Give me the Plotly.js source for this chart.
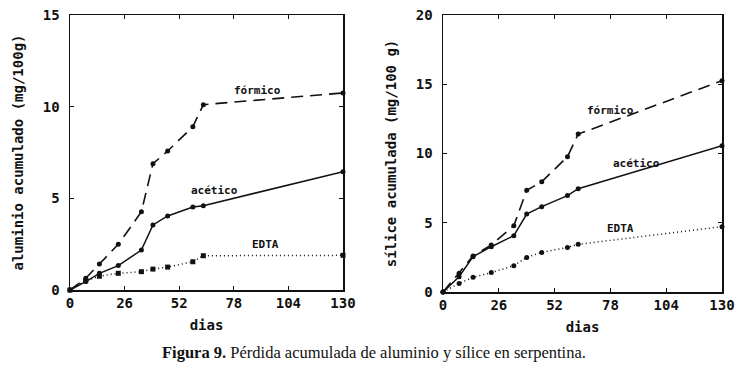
<!DOCTYPE html>
<html>
<head>
<meta charset="utf-8">
<script src="https://cdn.plot.ly/plotly-3.0.1.min.js"></script>
<style>
html,body{margin:0;padding:0;background:#fff;}
#chart{width:740px;height:376px;}
</style>
</head>
<body>
<div id="chart"></div>
<script>
// ---- data ----
const dias = [0, 7.5, 14, 23, 34, 39.5, 46.5, 58.5, 63.5, 130];
const diasSi = [0, 7.5, 14, 22.5, 33, 39, 46, 58, 63, 130];

const alFormico = [0, 0.64, 1.42, 2.49, 4.27, 6.89, 7.58, 8.91, 10.11, 10.75];
const alAcetico = [0, 0.46, 0.91, 1.33, 2.18, 3.55, 4.04, 4.53, 4.60, 6.45];
const alEDTA    = [0, 0.50, 0.75, 0.91, 1.00, 1.14, 1.25, 1.54, 1.87, 1.89];

const siFormico = [0, 1.35, 2.60, 3.39, 4.79, 7.34, 7.96, 9.77, 11.40, 15.26];
const siAcetico = [0, 1.10, 2.55, 3.27, 4.07, 5.63, 6.16, 6.96, 7.46, 10.56];
const siEDTA    = [0, 0.62, 1.06, 1.40, 1.90, 2.50, 2.86, 3.22, 3.44, 4.72];

const xTicks = [0, 26, 52, 78, 104, 130];
const seriesNames = ['fórmico', 'acético', 'EDTA'];
const yTitleAl = 'aluminio acumulado (mg/100g)';
const yTitleSi = 'sílice acumulada (mg/100 g)';
const xTitle = 'dias';
const caption = '<b>Figura 9.</b> Pérdida acumulada de aluminio y sílice en serpentina.';

// ---- styling ----
const mono = '"DejaVu Sans Mono", monospace';
const dashes = ['12px,7px', 'solid', '1px,3px'];
const lw = [1.6, 1.5, 1.5];

function mk(x, y, i, xa, ya) {
  return {
    x: x, y: y, xaxis: xa, yaxis: ya, type: 'scatter', mode: 'lines+markers',
    name: seriesNames[i], showlegend: false,
    line: {color: '#111', width: lw[i], dash: dashes[i]},
    marker: {color: '#111', size: 5, symbol: i === 2 && xa === 'x' ? 'square' : 'circle'},
    cliponaxis: false
  };
}

const traces = [
  mk(dias, alFormico, 0, 'x', 'y'),
  mk(dias, alAcetico, 1, 'x', 'y'),
  mk(dias, alEDTA, 2, 'x', 'y'),
  mk(diasSi, siFormico, 0, 'x2', 'y2'),
  mk(diasSi, siAcetico, 1, 'x2', 'y2'),
  mk(diasSi, siEDTA, 2, 'x2', 'y2')
];

const W = 740, H = 376;
const tickFont = {family: mono, size: 14, color: '#111', weight: 'bold'};
function axX(d0, d1, anchor) {
  return {
    domain: [d0 / W, d1 / W], anchor: anchor, range: [0, 130],
    tickvals: xTicks, ticks: 'inside', ticklen: 4, tickwidth: 1.3, tickcolor: '#111',
    showline: true, linecolor: '#111', linewidth: 1.5, mirror: 'allticks',
    showgrid: false, zeroline: false,
    tickfont: tickFont,
    title: {text: xTitle, font: {family: mono, size: 14, color: '#111', weight: 'bold'}, standoff: 10}
  };
}
function axY(t0, t1, anchor, max, title) {
  return {
    domain: [1 - t1 / H, 1 - t0 / H], anchor: anchor, range: [0, max], dtick: 5,
    ticks: 'inside', ticklen: 4, tickwidth: 1.3, tickcolor: '#111',
    showline: true, linecolor: '#111', linewidth: 1.5, mirror: 'allticks',
    showgrid: false, zeroline: false, ticklabelstandoff: 6,
    tickfont: tickFont,
    title: {text: title, font: {family: mono, size: 14, color: '#111', weight: 'bold'}, standoff: 16}
  };
}

const annFont = {family: mono, size: 11, color: '#111', weight: 'bold'};
const layout = {
  width: W, height: H, margin: {l: 0, r: 0, t: 0, b: 0},
  paper_bgcolor: '#fff', plot_bgcolor: '#fff', showlegend: false,
  xaxis: axX(70, 343, 'y'),
  yaxis: axY(15, 290, 'x', 15, yTitleAl),
  xaxis2: axX(443, 722, 'y2'),
  yaxis2: axY(15, 292, 'x2', 20, yTitleSi),
  annotations: [
    {xref: 'x', yref: 'y', x: 89.5, y: 10.9, text: seriesNames[0], showarrow: false, font: annFont},
    {xref: 'x', yref: 'y', x: 69, y: 5.45, text: seriesNames[1], showarrow: false, font: annFont},
    {xref: 'x', yref: 'y', x: 93, y: 2.5, text: seriesNames[2], showarrow: false, font: annFont},
    {xref: 'x2', yref: 'y2', x: 78, y: 13.1, text: seriesNames[0], showarrow: false, font: annFont},
    {xref: 'x2', yref: 'y2', x: 90, y: 9.3, text: seriesNames[1], showarrow: false, font: annFont},
    {xref: 'x2', yref: 'y2', x: 82.5, y: 4.6, text: seriesNames[2], showarrow: false, font: annFont},
    {xref: 'paper', yref: 'paper', x: 374 / W, y: 1 - 352 / H, xanchor: 'center', yanchor: 'middle',
     text: caption, showarrow: false,
     font: {family: '"Liberation Serif", serif', size: 16.5, color: '#111'}}
  ]
};

Plotly.newPlot('chart', traces, layout, {staticPlot: true, displayModeBar: false});
</script>
</body>
</html>
